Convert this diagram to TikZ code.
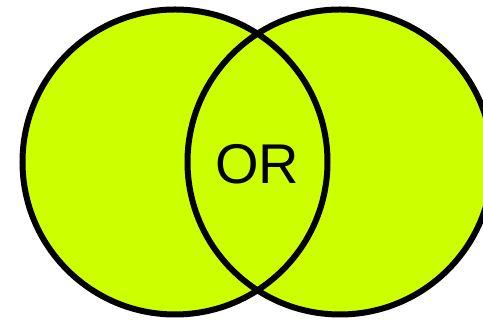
\documentclass[tikz,border=0pt]{standalone}
\usepackage{fontspec}
\setmainfont{Liberation Sans}
\definecolor{venn}{HTML}{CCFF00}
\begin{document}
\begin{tikzpicture}[x=1pt,y=1pt,
  setfill/.style={circle,fill=venn,minimum size=305pt,inner sep=0pt},
  setline/.style={circle,draw=black,line width=6pt,minimum size=305pt,inner sep=0pt}]
\useasboundingbox (0,0) rectangle (483,320);
\node[setfill] (fa) at (175,158) {};
\node[setfill] (fb) at (340,158) {};
\node[setline] (a) at (175,158) {};
\node[setline] (b) at (340,158) {};
\node[font=\fontsize{56}{60}\selectfont,inner sep=0pt] (lbl) at (257,156) {OR};
\end{tikzpicture}
\end{document}
